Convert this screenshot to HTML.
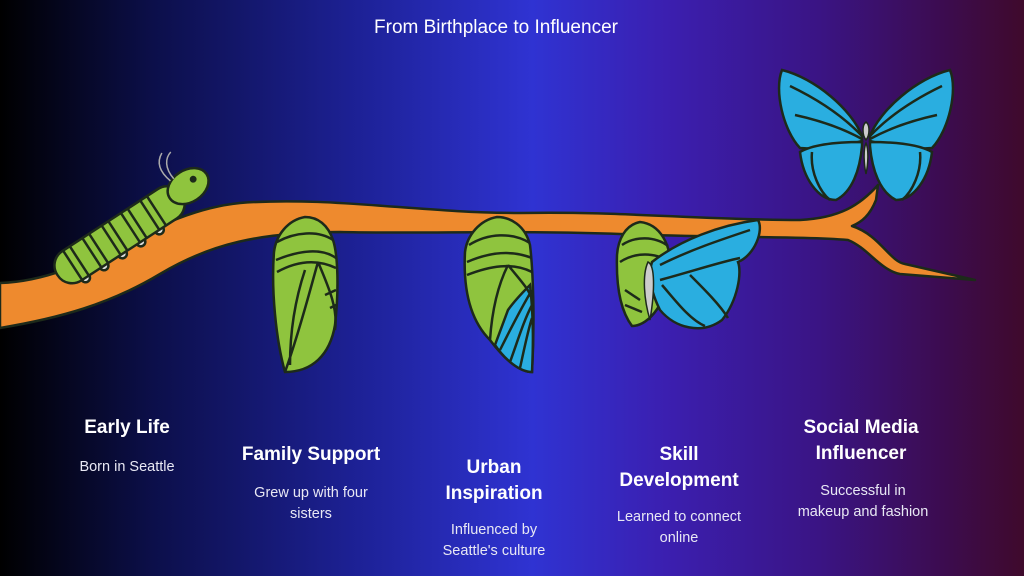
<!DOCTYPE html>
<html><head><meta charset="utf-8"><style>
body{margin:0;width:1024px;height:576px;overflow:hidden;font-family:"Liberation Sans",sans-serif;}
.bg{position:absolute;inset:0;background:linear-gradient(90deg,#000 0%,#0c0f4a 15%,#1d2196 35%,#2f33d2 52%,#3b1fb0 65%,#3a1484 80%,#3c0c50 92%,#3f0a2c 100%);}
.t{position:absolute;color:#fff;text-align:center;transform:translateX(-50%);white-space:nowrap}
.h{font-weight:bold;font-size:19px;line-height:26px}
.d{font-size:14.5px;line-height:21px;color:#e8e8f4}
</style></head><body>
<div class="bg"></div>
<svg width="1024" height="576" style="position:absolute;left:0;top:0">
<g stroke="#1d2a1a" stroke-width="2.5" stroke-linejoin="round">
<path fill="#ee8a2e" d="M0,283 C90,280 150,212 240,203 C330,196 420,213 520,213 C620,211 700,220 800,220 C840,218 860,205 878,185 L876,200 C870,215 862,222 852,226 C880,235 890,262 905,264 L975,280 L900,274 C880,270 868,248 848,240 C800,236 720,238 620,234 C520,230 420,234 340,232 C260,232 210,244 160,274 C110,304 60,318 0,328 Z"/>
</g>
<!-- caterpillar -->
<g transform="translate(126,230) rotate(-33)" stroke="#1d2a1a" stroke-width="2.5">
<g fill="#ddd"><circle cx="-60" cy="18" r="4.5"/><circle cx="-38" cy="18" r="4.5"/><circle cx="-16" cy="18" r="4.5"/><circle cx="6" cy="18" r="4.5"/><circle cx="28" cy="18" r="4.5"/></g>
<rect x="-82" y="-17" width="148" height="35" rx="17" fill="#8fc43e"/>
<g fill="none"><path d="M-64,-16v34M-56,-17v35M-41,-17v35M-33,-17v35M-18,-17v35M-10,-17v35M5,-17v35M13,-17v35M28,-17v35M36,-17v35"/></g>
<ellipse cx="76" cy="-3" rx="22" ry="16" fill="#8fc43e"/>
<circle cx="84" cy="-6" r="2.2" fill="#1d2a1a"/>
<path d="M64,-17 C59,-33 64,-41 72,-45 M68,-17 C66,-31 72,-39 80,-41" fill="none" stroke="#aaa" stroke-width="1.5"/>
</g>
<g stroke="#1d2a1a" stroke-width="2.5" fill="none">
<!-- chrysalis 1 -->
<path fill="#8fc43e" d="M305,217 C288,220 276,235 274,252 C271,290 276,340 285,372 C312,372 330,355 335,325 C339,290 338,255 333,240 C328,225 318,217 305,217Z"/>
<path d="M277,242 C295,232 318,230 333,240 M276,260 C300,250 322,248 336,258 M277,272 C295,262 315,258 336,268 M285,372 C300,330 310,290 318,262 M290,365 C290,330 295,300 305,270 M318,262 C330,290 338,310 335,330 M336,290 L325,295 M336,305 L330,308"/>
<!-- chrysalis 2 -->
<path fill="#8fc43e" d="M497,217 C480,220 467,235 465,252 C463,290 470,320 490,340 C505,360 520,372 532,372 C535,320 533,270 530,245 C525,225 510,217 497,217Z"/>
<path fill="#2aaee0" d="M508,310 C515,300 525,290 530,285 C534,320 533,350 532,372 C520,372 505,360 495,345Z"/>
<path d="M469,245 C488,233 512,232 530,243 M467,262 C490,252 512,250 532,258 M467,275 C490,266 512,262 532,272 M490,340 C492,310 498,285 508,265 M508,265 C520,280 530,290 532,300 M500,350 C510,330 520,310 532,290 M510,362 C518,340 524,320 532,305 M520,368 C524,350 528,330 532,318"/>
<!-- chrysalis 3 + emerging butterfly -->
<path fill="#8fc43e" d="M640,222 C625,225 618,240 617,255 C616,285 620,310 632,326 C650,326 668,300 670,270 C672,245 660,224 640,222Z"/>
<path d="M622,245 C635,236 655,236 668,246 M620,262 C635,252 655,252 670,262 M625,290 L640,300 M625,305 L642,312"/>
<path fill="#2aaee0" d="M652,262 C680,240 720,225 758,220 C764,230 755,255 738,262 C742,272 738,300 722,320 C702,335 675,328 660,310 C650,290 648,275 652,262Z"/>
<path d="M660,265 C690,250 720,240 750,230 M660,280 C690,272 720,262 740,258 M662,285 C675,300 690,320 705,326 M690,275 C705,290 720,305 728,318"/>
<path fill="#ccc" stroke-width="1.5" d="M648,262 C655,265 655,290 650,320 C644,300 642,275 648,262Z"/>
<!-- big butterfly -->
<path fill="#2aaee0" d="M862,136 C852,110 815,78 782,70 C774,90 783,130 800,148 C822,150 845,146 862,141Z"/>
<path fill="#2aaee0" d="M862,142 C835,142 812,145 800,152 C803,178 818,200 836,200 C852,192 860,170 862,146Z"/>
<path fill="#2aaee0" d="M870,136 C880,110 917,78 950,70 C958,90 949,130 932,148 C910,150 887,146 870,141Z"/>
<path fill="#2aaee0" d="M870,142 C897,142 920,145 932,152 C929,178 914,200 896,200 C880,192 872,170 870,146Z"/>
<path d="M790,86 C815,98 842,115 862,136 M795,115 C818,120 842,128 862,139 M942,86 C917,98 890,115 870,136 M937,115 C914,120 890,128 870,139 M812,152 C810,172 820,192 830,200 M920,152 C922,172 912,192 902,200"/>
<path fill="#ccc" stroke-width="1.5" d="M866,122 C870,125 870,135 866,140 C862,135 862,125 866,122Z M866,143 C869,150 868,165 866,174 C864,165 863,150 866,143Z"/>
</g>
</svg>
<div class="t" style="left:496px;top:17px;font-size:19px">From Birthplace to Influencer</div>
<div class="t h" style="left:127px;top:415px">Early Life</div>
<div class="t d" style="left:127px;top:457px">Born in Seattle</div>
<div class="t h" style="left:311px;top:442px">Family Support</div>
<div class="t d" style="left:311px;top:483px">Grew up with four<br>sisters</div>
<div class="t h" style="left:494px;top:455px">Urban<br>Inspiration</div>
<div class="t d" style="left:494px;top:520px">Influenced by<br>Seattle's culture</div>
<div class="t h" style="left:679px;top:442px">Skill<br>Development</div>
<div class="t d" style="left:679px;top:507px">Learned to connect<br>online</div>
<div class="t h" style="left:861px;top:415px">Social Media<br>Influencer</div>
<div class="t d" style="left:863px;top:481px">Successful in<br>makeup and fashion</div>
</body></html>
